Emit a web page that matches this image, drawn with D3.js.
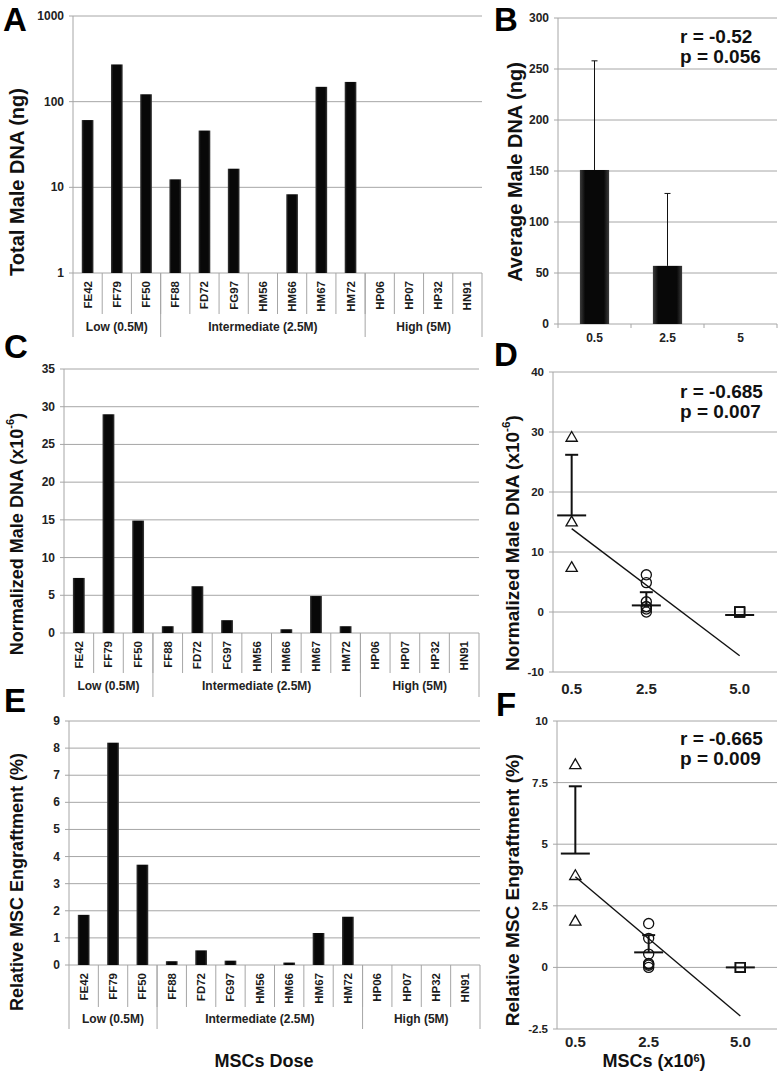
<!DOCTYPE html>
<html>
<head>
<meta charset="utf-8">
<script src="https://cdn.jsdelivr.net/npm/d3@7"></script>
<style>
body { margin: 0; background: #fff; }
svg { font-family: Arial, "Liberation Sans", sans-serif; display: block; }
</style>
</head>
<body>
<svg width="782" height="1074"></svg>
<script>
// ---- data ----
var samples = ["FE42","FF79","FF50","FF88","FD72","FG97","HM56","HM66","HM67","HM72","HP06","HP07","HP32","HN91"];
var groupNames = ["Low (0.5M)", "Intermediate (2.5M)", "High (5M)"];
var groupFirst = ["FE42", "FF88", "HP06"];
var groupLast  = ["FF50", "HM72", "HN91"];

var totalDNA = [61, 272, 122, 12.4, 46, 16.5, 0, 8.3, 149, 170, 0, 0, 0, 0];
var normDNA  = [7.3, 29.0, 14.9, 0.9, 6.2, 1.7, 0, 0.5, 4.9, 0.9, 0, 0, 0, 0];
var engraft  = [1.85, 8.2, 3.7, 0.14, 0.54, 0.16, 0, 0.09, 1.18, 1.78, 0, 0, 0, 0];

var doseLabels = ["0.5", "2.5", "5"];
var avgDNA     = [151, 57, 0];
var avgDNAtop  = [258, 128, 0];

var doseX = [0.5, 2.5, 5.0];
var doseXLabels = ["0.5", "2.5", "5.0"];
var meanD = [16.1, 1.1, -0.5];
var upperD = [26.2, 3.3, -0.5];
var regD = [[0.5, 13.9], [5.0, -7.3]];
var meanF = [4.62, 0.61, 0];
var upperF = [7.35, 1.31, 0];
var regF = [[0.5, 3.68], [5.0, -1.97]];

var ticksA = [1, 10, 100, 1000];
var ticksB = [0, 50, 100, 150, 200, 250, 300];
var ticksC = [0, 5, 10, 15, 20, 25, 30, 35];
var ticksD = [-10, 0, 10, 20, 30, 40];
var ticksE = [0, 1, 2, 3, 4, 5, 6, 7, 8, 9];
var ticksF = [-2.5, 0, 2.5, 5, 7.5, 10];

var gridColor = "#a6a6a6";
var svg = d3.select("svg");

// bevelled black bars
var grad = svg.append("defs").append("linearGradient").attr("id", "barGrad");
grad.append("stop").attr("offset", "0%").attr("stop-color", "#3c3c3c");
grad.append("stop").attr("offset", "18%").attr("stop-color", "#080808");
grad.append("stop").attr("offset", "82%").attr("stop-color", "#080808");
grad.append("stop").attr("offset", "100%").attr("stop-color", "#3c3c3c");

function panelLetter(t, x, y) {
  svg.append("text").attr("x", x).attr("y", y).text(t)
    .attr("font-size", 33).attr("font-weight", "bold");
}

function yTitle(parts, x, y, size) {
  var t = svg.append("text")
    .attr("transform", "translate(" + x + "," + y + ") rotate(-90)")
    .attr("text-anchor", "middle").attr("dominant-baseline", "central")
    .attr("font-size", size).attr("font-weight", "bold").attr("fill", "#111");
  t.append("tspan").text(parts[0]);
  if (parts.length > 1) {
    var s = size * 0.62, up = size * 0.38;
    t.append("tspan").attr("font-size", s).attr("dy", -up).text(parts[1]);
    t.append("tspan").attr("dy", up).text(parts[2]);
  }
}

function stats(lines, x, y) {
  lines.forEach(function(l, i) {
    svg.append("text").attr("x", x).attr("y", y + i * 20).text(l)
      .attr("font-size", 19).attr("font-weight", "bold").attr("fill", "#111");
  });
}

function barPanel(cfg) {
  var g = svg.append("g");
  var x = d3.scaleBand().domain(samples).range([cfg.left, cfg.right]);
  var y = cfg.log ? d3.scaleLog().domain([1, 1000]).range([cfg.bottom, cfg.top])
                  : d3.scaleLinear().domain(cfg.domain).range([cfg.bottom, cfg.top]);
  var bw = x.bandwidth();

  g.selectAll(".grid").data(cfg.ticks).enter().append("line")
    .attr("x1", cfg.left - 4).attr("x2", cfg.right)
    .attr("y1", d => y(d)).attr("y2", d => y(d))
    .attr("stroke", gridColor);
  g.selectAll(".tl").data(cfg.ticks).enter().append("text")
    .attr("x", cfg.left - 9).attr("y", d => y(d))
    .attr("text-anchor", "end").attr("dominant-baseline", "central")
    .attr("font-size", 12).attr("font-weight", "bold").attr("fill", "#222")
    .text(d => d);

  // left axis runs down through the label rows
  g.append("line").attr("x1", cfg.left).attr("x2", cfg.left)
    .attr("y1", cfg.top).attr("y2", cfg.groupBottom).attr("stroke", gridColor);
  // cell separators
  g.selectAll(".sep").data(samples.slice(1)).enter().append("line")
    .attr("x1", d => x(d)).attr("x2", d => x(d))
    .attr("y1", cfg.bottom).attr("y2", cfg.catBottom).attr("stroke", gridColor);
  g.selectAll(".gsep").data(groupFirst.slice(1)).enter().append("line")
    .attr("x1", d => x(d)).attr("x2", d => x(d))
    .attr("y1", cfg.bottom).attr("y2", cfg.groupBottom).attr("stroke", gridColor);
  g.append("line").attr("x1", cfg.right).attr("x2", cfg.right)
    .attr("y1", cfg.bottom).attr("y2", cfg.groupBottom).attr("stroke", gridColor);

  var data = samples.map((s, i) => ({ s: s, v: cfg.values[i] })).filter(d => d.v > 0);
  g.selectAll(".bar").data(data).enter().append("rect")
    .attr("x", d => x(d.s) + bw * 0.3).attr("width", bw * 0.4)
    .attr("y", d => y(d.v)).attr("height", d => cfg.bottom - y(d.v))
    .attr("fill", "url(#barGrad)");

  g.selectAll(".cat").data(samples).enter().append("text")
    .attr("transform", d => "translate(" + (x(d) + bw / 2) + "," + (cfg.bottom + 8) + ") rotate(-90)")
    .attr("text-anchor", "end").attr("dominant-baseline", "central")
    .attr("font-size", 11.5).attr("font-weight", "bold").attr("fill", "#1a1a1a").text(d => d);

  g.selectAll(".grp").data(groupNames).enter().append("text")
    .attr("x", (d, i) => (x(groupFirst[i]) + x(groupLast[i]) + bw) / 2)
    .attr("y", (cfg.catBottom + cfg.groupBottom) / 2 + 1)
    .attr("text-anchor", "middle").attr("dominant-baseline", "central")
    .attr("font-size", 12).attr("font-weight", "bold").attr("fill", "#222")
    .text(d => d);
}

function avgPanel(cfg) {
  var g = svg.append("g");
  var x = d3.scaleBand().domain(doseLabels).range([cfg.left, cfg.right]);
  var y = d3.scaleLinear().domain([0, 300]).range([cfg.bottom, cfg.top]);
  var bw = x.bandwidth();
  g.selectAll(".grid").data(ticksB).enter().append("line")
    .attr("x1", cfg.left - 4).attr("x2", cfg.right)
    .attr("y1", d => y(d)).attr("y2", d => y(d)).attr("stroke", gridColor);
  g.selectAll(".tl").data(ticksB).enter().append("text")
    .attr("x", cfg.left - 9).attr("y", d => y(d))
    .attr("text-anchor", "end").attr("dominant-baseline", "central")
    .attr("font-size", 12).attr("font-weight", "bold").attr("fill", "#222").text(d => d);
  g.append("line").attr("x1", cfg.left).attr("x2", cfg.left)
    .attr("y1", cfg.top).attr("y2", cfg.bottom + 4).attr("stroke", gridColor);
  g.selectAll(".xt").data(doseLabels.slice(1).concat(["end"])).enter().append("line")
    .attr("x1", (d, i) => cfg.left + bw * (i + 1)).attr("x2", (d, i) => cfg.left + bw * (i + 1))
    .attr("y1", cfg.bottom).attr("y2", cfg.bottom + 4).attr("stroke", gridColor);

  var data = doseLabels.map((d, i) => ({ d: d, v: avgDNA[i], t: avgDNAtop[i] })).filter(d => d.v > 0);
  g.selectAll(".err").data(data).enter().append("line")
    .attr("x1", d => x(d.d) + bw / 2).attr("x2", d => x(d.d) + bw / 2)
    .attr("y1", d => y(d.v)).attr("y2", d => y(d.t)).attr("stroke", "#111");
  g.selectAll(".cap").data(data).enter().append("line")
    .attr("x1", d => x(d.d) + bw / 2 - 3).attr("x2", d => x(d.d) + bw / 2 + 3)
    .attr("y1", d => y(d.t)).attr("y2", d => y(d.t)).attr("stroke", "#111");
  g.selectAll(".bar").data(data).enter().append("rect")
    .attr("x", d => x(d.d) + bw * 0.3).attr("width", bw * 0.4)
    .attr("y", d => y(d.v)).attr("height", d => cfg.bottom - y(d.v))
    .attr("fill", "url(#barGrad)");
  g.selectAll(".xl").data(doseLabels).enter().append("text")
    .attr("x", d => x(d) + bw / 2).attr("y", cfg.bottom + 14)
    .attr("text-anchor", "middle").attr("dominant-baseline", "central")
    .attr("font-size", 12).attr("font-weight", "bold").attr("fill", "#222").text(d => d);
}

function scatterPanel(cfg) {
  var g = svg.append("g");
  var x = d3.scaleLinear().domain([0, 6]).range([cfg.left, cfg.right]);
  var y = d3.scaleLinear().domain(cfg.domain).range([cfg.bottom, cfg.top]);
  g.selectAll(".grid").data(cfg.ticks).enter().append("line")
    .attr("x1", cfg.left - 4).attr("x2", cfg.right)
    .attr("y1", d => y(d)).attr("y2", d => y(d)).attr("stroke", gridColor);
  g.selectAll(".tl").data(cfg.ticks).enter().append("text")
    .attr("x", cfg.left - 9).attr("y", d => y(d))
    .attr("text-anchor", "end").attr("dominant-baseline", "central")
    .attr("font-size", 11.5).attr("font-weight", "bold").attr("fill", "#222").text(d => d);
  g.append("line").attr("x1", cfg.left).attr("x2", cfg.left)
    .attr("y1", cfg.top).attr("y2", cfg.bottom).attr("stroke", gridColor);
  g.selectAll(".xl").data(doseX).enter().append("text")
    .attr("x", d => x(d)).attr("y", cfg.bottom + cfg.xlabOff)
    .attr("text-anchor", "middle").attr("dominant-baseline", "central")
    .attr("font-size", 15).attr("font-weight", "bold").attr("fill", "#222")
    .text((d, i) => doseXLabels[i]);

  // points: low dose triangles, intermediate circles, high squares
  var shapes = [d3.symbolTriangle, d3.symbolCircle, d3.symbolSquare];
  var sizes = [55, 80, 95];
  var pts = cfg.values.map((v, i) => ({ v: v, k: i < 3 ? 0 : (i < 10 ? 1 : 2) }));
  g.selectAll(".pt").data(pts).enter().append("path")
    .attr("transform", d => "translate(" + x(doseX[d.k]) + "," + y(d.v) + ")")
    .attr("d", d => d3.symbol().type(shapes[d.k]).size(sizes[d.k])())
    .attr("fill", "none").attr("stroke", "#111").attr("stroke-width", 1.3);

  var ms = doseX.map((d, i) => ({ d: d, m: cfg.mean[i], u: cfg.upper[i] }));
  g.selectAll(".mean").data(ms).enter().append("line")
    .attr("x1", d => x(d.d) - 14.5).attr("x2", d => x(d.d) + 14.5)
    .attr("y1", d => y(d.m)).attr("y2", d => y(d.m))
    .attr("stroke", "#111").attr("stroke-width", 2);
  var es = ms.filter(d => d.u > d.m);
  g.selectAll(".err").data(es).enter().append("line")
    .attr("x1", d => x(d.d)).attr("x2", d => x(d.d))
    .attr("y1", d => y(d.m)).attr("y2", d => y(d.u))
    .attr("stroke", "#111").attr("stroke-width", 2);
  g.selectAll(".cap").data(es).enter().append("line")
    .attr("x1", d => x(d.d) - 6.5).attr("x2", d => x(d.d) + 6.5)
    .attr("y1", d => y(d.u)).attr("y2", d => y(d.u))
    .attr("stroke", "#111").attr("stroke-width", 2);

  g.append("path").datum(cfg.reg)
    .attr("d", d3.line().x(d => x(d[0])).y(d => y(d[1])))
    .attr("stroke", "#111").attr("stroke-width", 1.4).attr("fill", "none");
}

// ---- A ----
barPanel({ left: 73, right: 482, top: 16, bottom: 273, catBottom: 314, groupBottom: 337,
  log: true, ticks: ticksA, values: totalDNA });
panelLetter("A", 3, 31);
yTitle(["Total Male DNA (ng)"], 17, 182, 20);

// ---- B ----
avgPanel({ left: 558, right: 777, top: 18, bottom: 324 });
panelLetter("B", 494, 31);
yTitle(["Average Male DNA (ng)"], 515, 172, 20);
stats(["r = -0.52", "p = 0.056"], 680, 43);

// ---- C ----
barPanel({ left: 64, right: 479, top: 369, bottom: 633, catBottom: 673, groupBottom: 697,
  domain: [0, 35], ticks: ticksC, values: normDNA });
panelLetter("C", 4, 358);
yTitle(["Normalized Male DNA (x10", "-6", ")"], 17, 534, 18);

// ---- D ----
scatterPanel({ left: 553, right: 777, top: 372, bottom: 672, domain: [-10, 40], ticks: ticksD,
  values: normDNA, mean: meanD, upper: upperD, reg: regD, xlabOff: 16 });
panelLetter("D", 494, 366);
yTitle(["Normalized Male DNA (x10", "-6", ")"], 512, 543, 19);
stats(["r = -0.685", "p = 0.007"], 680, 398);

// ---- E ----
barPanel({ left: 69, right: 480, top: 721, bottom: 965, catBottom: 1007, groupBottom: 1029,
  domain: [0, 9], ticks: ticksE, values: engraft });
panelLetter("E", 4, 712);
yTitle(["Relative MSC Engraftment (%)"], 17, 882, 18);
svg.append("text").attr("x", 264).attr("y", 1067).attr("text-anchor", "middle")
  .attr("font-size", 18).attr("font-weight", "bold").attr("fill", "#111").text("MSCs Dose");

// ---- F ----
scatterPanel({ left: 557, right: 777, top: 721, bottom: 1029, domain: [-2.5, 10], ticks: ticksF,
  values: engraft, mean: meanF, upper: upperF, reg: regF, xlabOff: 12 });
panelLetter("F", 496, 716);
yTitle(["Relative MSC Engraftment (%)"], 512, 890, 19);
stats(["r = -0.665", "p = 0.009"], 680, 745);
var xt = svg.append("text").attr("x", 654).attr("y", 1067).attr("text-anchor", "middle")
  .attr("font-size", 18).attr("font-weight", "bold").attr("fill", "#111");
xt.append("tspan").text("MSCs (x10");
xt.append("tspan").attr("font-size", 11).attr("dy", -5).text("6");
xt.append("tspan").attr("dy", 5).text(")");
</script>
</body>
</html>
